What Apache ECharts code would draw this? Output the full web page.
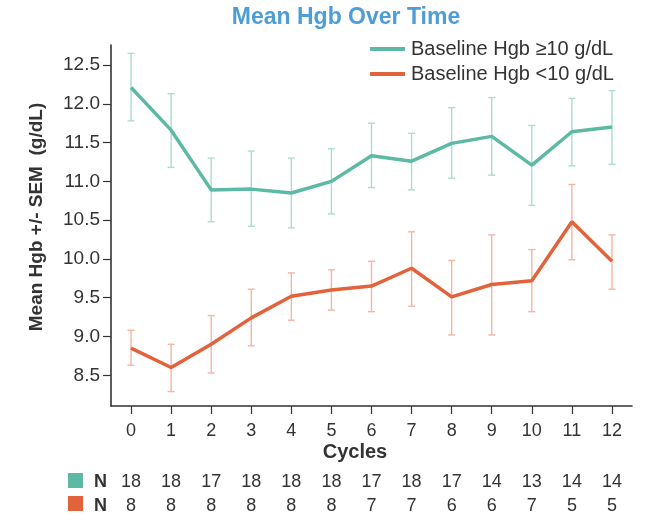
<!DOCTYPE html>
<html>
<head>
<meta charset="utf-8">
<script src="https://cdn.jsdelivr.net/npm/echarts@6/dist/echarts.min.js"></script>
<style>
  html, body { margin: 0; padding: 0; background: #fff; }
  #chart { width: 646px; height: 516px; }
</style>
</head>
<body>
<div id="chart"></div>
<script>
// Cycle numbers on the x axis
const cycles = [0, 1, 2, 3, 4, 5, 6, 7, 8, 9, 10, 11, 12];

// Baseline Hgb >= 10 g/dL: mean and mean +/- SEM
const highMean  = [12.21, 11.66, 10.89, 10.90, 10.85, 11.00, 11.33, 11.26, 11.49, 11.58, 11.21, 11.64, 11.70];
const highUpper = [12.65, 12.13, 11.30, 11.39, 11.30, 11.42, 11.75, 11.62, 11.95, 12.08, 11.72, 12.07, 12.17];
const highLower = [11.78, 11.18, 10.48, 10.42, 10.40, 10.58, 10.92, 10.89, 11.04, 11.08, 10.69, 11.20, 11.22];

// Baseline Hgb < 10 g/dL: mean and mean +/- SEM
const lowMean  = [8.85, 8.60, 8.90, 9.24, 9.52, 9.60, 9.65, 9.88, 9.51, 9.67, 9.72, 10.48, 9.97];
const lowUpper = [9.08, 8.90, 9.27, 9.61, 9.82, 9.86, 9.97, 10.35, 9.98, 10.31, 10.12, 10.96, 10.31];
const lowLower = [8.63, 8.29, 8.53, 8.88, 9.21, 9.34, 9.32, 9.39, 9.02, 9.02, 9.32, 9.99, 9.61];

// Patients per cycle in each group
const nHigh = [18, 18, 17, 18, 18, 18, 17, 18, 17, 14, 13, 14, 14];
const nLow  = [8, 8, 8, 8, 8, 8, 7, 7, 6, 6, 7, 5, 5];

// Y axis tick labels
const yTicks = [8.5, 9.0, 9.5, 10.0, 10.5, 11.0, 11.5, 12.0, 12.5];

const seriesNames = ['Baseline Hgb \u226510 g/dL', 'Baseline Hgb <10 g/dL'];

const TEAL = '#5bb9a4';
const TEAL_BAR = '#a9ddd2';
const ORANGE = '#e2633b';
const ORANGE_BAR = '#f3b6a2';
const INK = '#333333';
const FONT = 'Liberation Sans, Arial, Helvetica, sans-serif';

function errorRows(lower, upper) {
  return cycles.map((c, i) => [c, lower[i], upper[i]]);
}

function errorBarRenderer(color) {
  return function (params, api) {
    const x = api.value(0);
    const lo = api.coord([x, api.value(1)]);
    const hi = api.coord([x, api.value(2)]);
    const cap = 3.5;
    const style = { stroke: color, lineWidth: 1.4, fill: null };
    return {
      type: 'group',
      children: [
        { type: 'line', shape: { x1: hi[0], y1: hi[1], x2: lo[0], y2: lo[1] }, style },
        { type: 'line', shape: { x1: hi[0] - cap, y1: hi[1], x2: hi[0] + cap, y2: hi[1] }, style },
        { type: 'line', shape: { x1: lo[0] - cap, y1: lo[1], x2: lo[0] + cap, y2: lo[1] }, style }
      ]
    };
  };
}

const xBase = {
  type: 'value',
  min: -0.5,
  max: 12.5,
  splitLine: { show: false }
};

const chart = echarts.init(document.getElementById('chart'), null, { renderer: 'canvas' });

chart.setOption({
  animation: false,
  backgroundColor: '#ffffff',
  textStyle: { fontFamily: FONT },
  title: {
    text: 'Mean Hgb Over Time',
    left: 341,
    top: 1,
    textAlign: 'center',
    textStyle: { fontFamily: FONT, fontSize: 23, fontWeight: 'bold', color: '#4e9dd6' }
  },
  legend: {
    orient: 'vertical',
    left: 365,
    top: 34,
    icon: 'rect',
    itemWidth: 35,
    itemHeight: 4,
    itemGap: 5,
    data: seriesNames,
    textStyle: { fontFamily: FONT, fontSize: 20, color: INK, padding: [0, 0, 0, 1] }
  },
  grid: { left: 111, right: 14, top: 45, bottom: 110 },
  xAxis: [
    Object.assign({}, xBase, {
      axisLine: { show: true, onZero: false, lineStyle: { color: INK, width: 1.6 } },
      axisTick: { show: true, length: 8, lineStyle: { color: INK, width: 1.2 }, customValues: cycles },
      axisLabel: { fontSize: 18, color: INK, margin: 16, customValues: cycles }
    }),
    Object.assign({}, xBase, {
      position: 'bottom',
      offset: 67,
      axisLine: { show: false, onZero: false },
      axisTick: { show: false },
      axisLabel: {
        fontSize: 18, color: INK, margin: 0, customValues: cycles,
        formatter: v => String(nHigh[cycles.indexOf(v)])
      }
    }),
    Object.assign({}, xBase, {
      position: 'bottom',
      offset: 91,
      axisLine: { show: false, onZero: false },
      axisTick: { show: false },
      axisLabel: {
        fontSize: 18, color: INK, margin: 0, customValues: cycles,
        formatter: v => String(nLow[cycles.indexOf(v)])
      }
    })
  ],
  yAxis: {
    type: 'value',
    min: 8.104,
    max: 12.758,
    splitLine: { show: false },
    axisLine: { show: true, onZero: false, lineStyle: { color: INK, width: 1.6 } },
    axisTick: { show: true, length: 8, lineStyle: { color: INK, width: 1.2 }, customValues: yTicks },
    axisLabel: {
      fontSize: 19, color: INK, margin: 11, customValues: yTicks,
      formatter: v => v.toFixed(1)
    }
  },
  graphic: [
    {
      type: 'text',
      x: 37, y: 217,
      rotation: Math.PI / 2,
      style: {
        text: 'Mean Hgb +/- SEM  (g/dL)',
        fontFamily: FONT, fontSize: 19, fontWeight: 'bold', fill: INK,
        align: 'center', verticalAlign: 'middle'
      }
    },
    {
      type: 'text',
      x: 355, y: 452,
      style: {
        text: 'Cycles',
        fontFamily: FONT, fontSize: 20, fontWeight: 'bold', fill: INK,
        align: 'center', verticalAlign: 'middle'
      }
    },
    { type: 'rect', shape: { x: 68, y: 473, width: 15, height: 15 }, style: { fill: TEAL } },
    { type: 'rect', shape: { x: 68, y: 496, width: 15, height: 15 }, style: { fill: ORANGE } },
    {
      type: 'text', x: 94, y: 482,
      style: { text: 'N', fontFamily: FONT, fontSize: 18, fontWeight: 'bold', fill: INK, align: 'left', verticalAlign: 'middle' }
    },
    {
      type: 'text', x: 94, y: 506,
      style: { text: 'N', fontFamily: FONT, fontSize: 18, fontWeight: 'bold', fill: INK, align: 'left', verticalAlign: 'middle' }
    }
  ],
  series: [
    {
      name: seriesNames[0] + ' SEM',
      type: 'custom',
      renderItem: errorBarRenderer(TEAL_BAR),
      data: errorRows(highLower, highUpper),
      encode: { x: 0, y: [1, 2] },
      z: 1,
      silent: true
    },
    {
      name: seriesNames[1] + ' SEM',
      type: 'custom',
      renderItem: errorBarRenderer(ORANGE_BAR),
      data: errorRows(lowLower, lowUpper),
      encode: { x: 0, y: [1, 2] },
      z: 1,
      silent: true
    },
    {
      name: seriesNames[0],
      type: 'line',
      data: cycles.map((c, i) => [c, highMean[i]]),
      showSymbol: false,
      symbol: 'none',
      color: TEAL,
      lineStyle: { color: TEAL, width: 3.5 },
      z: 3
    },
    {
      name: seriesNames[1],
      type: 'line',
      data: cycles.map((c, i) => [c, lowMean[i]]),
      showSymbol: false,
      symbol: 'none',
      color: ORANGE,
      lineStyle: { color: ORANGE, width: 3.5 },
      z: 3
    }
  ]
});
</script>
</body>
</html>
